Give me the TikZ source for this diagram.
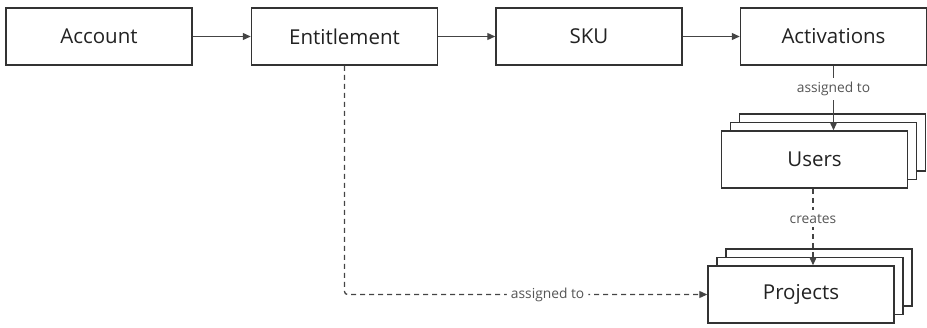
\documentclass[tikz,border=0pt]{standalone}
\usepackage{fontspec}
\setmainfont{Open Sans}
\usepackage{xcolor}
\usepackage{tikz}
\usetikzlibrary{arrows.meta, positioning, shadows}
\definecolor{boxline}{HTML}{333333}
\definecolor{linkcolor}{HTML}{444444}
\definecolor{labelcolor}{HTML}{555555}
\definecolor{textcolor}{HTML}{222222}

\begin{document}
\begin{tikzpicture}[x=1pt, y=-1pt,
    entity/.style={draw=boxline, line width=1.5pt, fill=white, text=textcolor,
        minimum width=186pt, minimum height=57pt, inner sep=0pt,
        font=\fontsize{20.5}{24}\selectfont},
    stacked/.style={entity,
        copy shadow={shadow xshift=18pt, shadow yshift=17pt, fill=white, draw=boxline, line width=1.5pt},
        copy shadow={shadow xshift=9pt, shadow yshift=8.5pt, fill=white, draw=boxline, line width=1.5pt}},
    link/.style={draw=linkcolor, line width=1.3pt, -{Triangle[length=8pt, width=7pt]}},
    weaklink/.style={link, dash pattern=on 5pt off 4pt},
    lbl/.style={fill=white, text=labelcolor, inner xsep=4pt, inner ysep=4pt, font=\fontsize{13.8}{16}\selectfont}]

    \useasboundingbox (0,0) rectangle (927,327);

    % Main chain
    \node[entity] (account) at (99,36.5) {Account};
    \node[entity, right=58pt of account] (entitlement) {Entitlement};
    \node[entity, right=57pt of entitlement] (sku) {SKU};
    \node[entity, right=57pt of sku] (activations) {Activations};

    % Stacked entities
    \node[stacked] (users) at (814.5,159.5) {Users};
    \node[stacked] (projects) at (801,294.5) {Projects};

    % Chain links
    \draw[link] (account) -- (entitlement);
    \draw[link] (entitlement) -- (sku);
    \draw[link] (sku) -- (activations);

    % Assignments
    \draw[link] (activations.south) -- node[lbl, pos=0.36] {assigned to} (users.north -| activations.south);
    \draw[weaklink] ([xshift=-1.5pt]users.south) -- node[lbl, pos=0.39] {creates} ([xshift=-1.5pt]users.south |- projects.north);
    \draw[weaklink, rounded corners=3pt] (entitlement.south) |- node[lbl, pos=0.78] {assigned to} (projects.west);

\end{tikzpicture}
\end{document}
